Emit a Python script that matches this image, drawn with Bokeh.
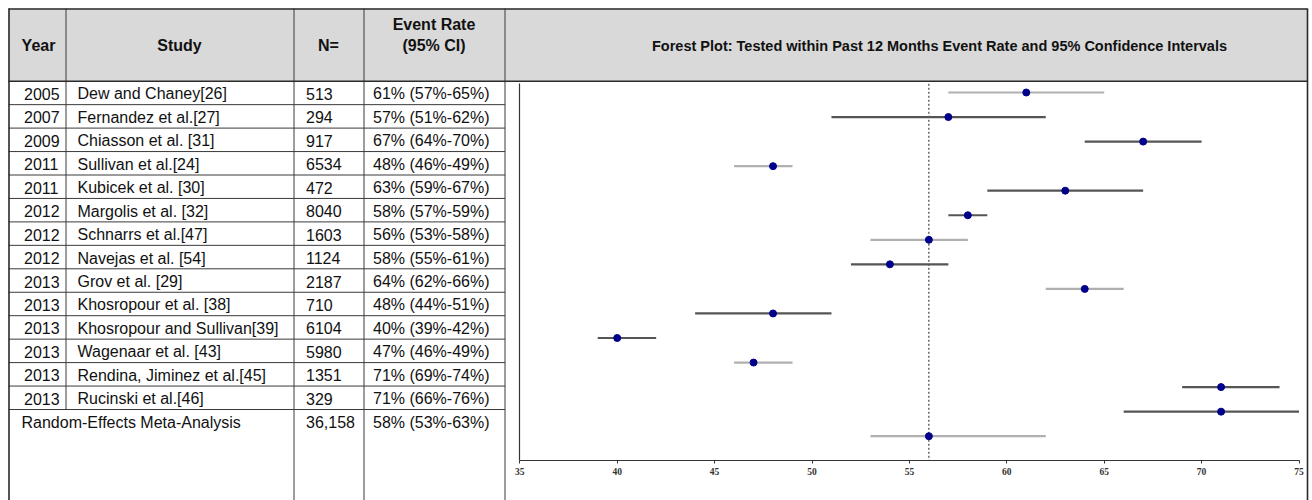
import numpy as np
from bokeh.plotting import figure
from bokeh.models import Range1d, LinearAxis, FixedTicker, ColumnDataSource
from bokeh.embed import file_html
from bokeh.resources import INLINE
from bokeh.core.properties import value

# ---------------- data ----------------
years = ["2005", "2007", "2009", "2011", "2011", "2012", "2012", "2012",
         "2013", "2013", "2013", "2013", "2013", "2013"]
studies = ["Dew and Chaney[26]", "Fernandez et al.[27]", "Chiasson et al. [31]",
           "Sullivan et al.[24]", "Kubicek et al. [30]", "Margolis et al. [32]",
           "Schnarrs et al.[47]", "Navejas et al. [54]", "Grov et al. [29]",
           "Khosropour et al. [38]", "Khosropour and Sullivan[39]",
           "Wagenaar et al. [43]", "Rendina, Jiminez et al.[45]", "Rucinski et al.[46]"]
n_vals = ["513", "294", "917", "6534", "472", "8040", "1603", "1124", "2187",
          "710", "6104", "5980", "1351", "329"]
rate_ci = ["61% (57%-65%)", "57% (51%-62%)", "67% (64%-70%)", "48% (46%-49%)",
           "63% (59%-67%)", "58% (57%-59%)", "56% (53%-58%)", "58% (55%-61%)",
           "64% (62%-66%)", "48% (44%-51%)", "40% (39%-42%)", "47% (46%-49%)",
           "71% (69%-74%)", "71% (66%-76%)"]
meta_label = "Random-Effects Meta-Analysis"
meta_n = "36,158"
meta_rate_ci = "58% (53%-63%)"

headers = ["Year", "Study", "N=", "Event Rate", "(95% CI)"]
title = "Forest Plot: Tested within Past 12 Months Event Rate and 95% Confidence Intervals"

# values as drawn in the forest plot (14 studies + meta-analysis)
plot_est = [61, 57, 67, 48, 63, 58, 56, 54, 64, 48, 40, 47, 71, 71, 56]
plot_lo = [57, 51, 64, 46, 59, 57, 53, 52, 62, 44, 39, 46, 69, 66, 53]
plot_hi = [65, 62, 70, 49, 67, 59, 58, 57, 66, 51, 42, 49, 74, 76, 62]
ci_group = ["light", "dark", "dark", "light", "dark", "dark", "light", "dark",
            "light", "dark", "dark", "light", "dark", "dark", "light"]
tick_values = [35, 40, 45, 50, 55, 60, 65, 70, 75]

# ---------------- layout constants (page pixels) ----------------
W, H = 1312, 500
X_AX0 = 519.3      # page x of value 35
PXU = 19.48        # px per unit
Y_ROW0 = 92.0      # page y of first forest row
ROW_H = 24.55      # forest row spacing
TOP, LEFT = 8, 8
HDR_BOT = 80.7
TROW_H = 23.45     # table row spacing
COLS = [8.5, 65.5, 293.5, 363.5, 504.5]
RB = 1307.0

xmin, xmax = tick_values[0], tick_values[-1]
xr = Range1d(xmin + (0 - X_AX0) / PXU, xmin + (W - X_AX0) / PXU)
yr = Range1d((H - Y_ROW0) / ROW_H, (0 - Y_ROW0) / ROW_H)

p = figure(width=W, height=H, x_range=xr, y_range=yr, min_border=0,
           x_axis_location=None, y_axis_location=None, toolbar_location=None,
           output_backend="svg", outline_line_color=None,
           background_fill_color="white", border_fill_color="white")
p.extra_x_ranges = {"px": Range1d(0, W)}
p.extra_y_ranges = {"px": Range1d(H, 0)}
p.grid.visible = False

PX = dict(x_range_name="px", y_range_name="px")
LC = "#3a3a3a"

# header background
p.quad(left=LEFT, right=RB, top=TOP, bottom=HDR_BOT, fill_color="#d9d9d9",
       line_color=None, **PX)

# table grid
nrows = len(studies)
row_lines = [HDR_BOT + TROW_H * k for k in range(1, nrows + 1)]
p.segment(x0=[LEFT] * nrows, x1=[COLS[-1]] * nrows, y0=row_lines, y1=row_lines,
          line_color=LC, line_width=1, **PX)
p.segment(x0=[COLS[1]], x1=[COLS[1]], y0=[TOP], y1=[row_lines[-1]],
          line_color=LC, line_width=1, **PX)
p.segment(x0=COLS[2:], x1=COLS[2:], y0=[TOP] * 3, y1=[H] * 3,
          line_color=LC, line_width=1, **PX)
# outer borders & header bottom
p.segment(x0=[LEFT, LEFT, COLS[0], RB], x1=[RB, RB, COLS[0], RB],
          y0=[TOP + 0.5, HDR_BOT, TOP, TOP], y1=[TOP + 0.5, HDR_BOT, H, H],
          line_color="#2a2a2a", line_width=1.6, **PX)

# header text
HF = value("Liberation Sans")
p.text(x=[38, 179, 328], y=[45, 45, 45], text=headers[:3], text_font=HF,
       text_font_style="bold", text_font_size="16px", text_align="center",
       text_baseline="middle", text_color="#111", **PX)
p.text(x=[433.5, 433.5], y=[24, 45], text=headers[3:], text_font=HF,
       text_font_style="bold", text_font_size="16px", text_align="center",
       text_baseline="middle", text_color="#111", **PX)
p.text(x=[939], y=[45], text=[title], text_font=HF, text_font_style="bold",
       text_font_size="14.5px", text_align="center", text_baseline="middle",
       text_color="#111", **PX)

# table body text
ty = [HDR_BOT + TROW_H * (k + 0.5) + 1 for k in range(nrows)]
body = ColumnDataSource(dict(y=ty, year=years, study=studies, n=n_vals, rate=rate_ci))
for col, xx in (("year", 23.5), ("study", 77), ("n", 305.5), ("rate", 372.5)):
    p.text(x=xx, y="y", text=col, source=body, text_font=HF, text_font_size="16px",
           text_align="left", text_baseline="middle", text_color="#111", **PX)
my = HDR_BOT + TROW_H * (nrows + 0.5) + 1
p.text(x=[21, 305.5, 372.5], y=[my] * 3, text=[meta_label, meta_n, meta_rate_ci],
       text_font=HF, text_font_size="16px", text_align="left",
       text_baseline="middle", text_color="#111", **PX)

# ---------------- forest plot ----------------
rows = list(range(len(plot_est)))
axis_row = len(plot_est)
colors = {"light": "#b0b0b0", "dark": "#555555"}
src = ColumnDataSource(dict(row=rows, est=plot_est, lo=plot_lo,
                            hi=list(np.minimum(plot_hi, xmax)),
                            color=[colors[g] for g in ci_group]))
top_row = (83.3 - Y_ROW0) / ROW_H

# reference line at the pooled estimate
p.segment(x0=[plot_est[-1]], x1=[plot_est[-1]], y0=[top_row], y1=[axis_row],
          line_color="#222", line_width=1, line_dash="2 2")

p.segment(x0="lo", x1="hi", y0="row", y1="row", line_color="color",
          line_width=2.2, source=src)
p.scatter(x="est", y="row", size=7, fill_color="#00008b", line_color="#00008b",
          source=src)

xaxis = LinearAxis(fixed_location=axis_row, ticker=FixedTicker(ticks=tick_values),
                   bounds=(xmin, xmax))
xaxis.axis_line_color = "#333"
xaxis.axis_line_width = 1.2
xaxis.major_tick_in = 0
xaxis.major_tick_out = 3
xaxis.major_tick_line_color = "#333"
xaxis.minor_tick_line_color = None
xaxis.major_label_text_font = "Liberation Serif"
xaxis.major_label_text_font_size = "9.5px"
xaxis.major_label_text_font_style = "bold"
xaxis.major_label_text_color = "#333"
xaxis.major_label_standoff = 4
p.add_layout(xaxis, "below")

yaxis = LinearAxis(fixed_location=xmin, ticker=FixedTicker(ticks=[]),
                   bounds=(top_row, axis_row))
yaxis.axis_line_color = "#333"
yaxis.axis_line_width = 1.2
yaxis.major_tick_line_color = None
yaxis.minor_tick_line_color = None
p.add_layout(yaxis, "left")

open("out.html", "w").write(file_html(p, INLINE))
